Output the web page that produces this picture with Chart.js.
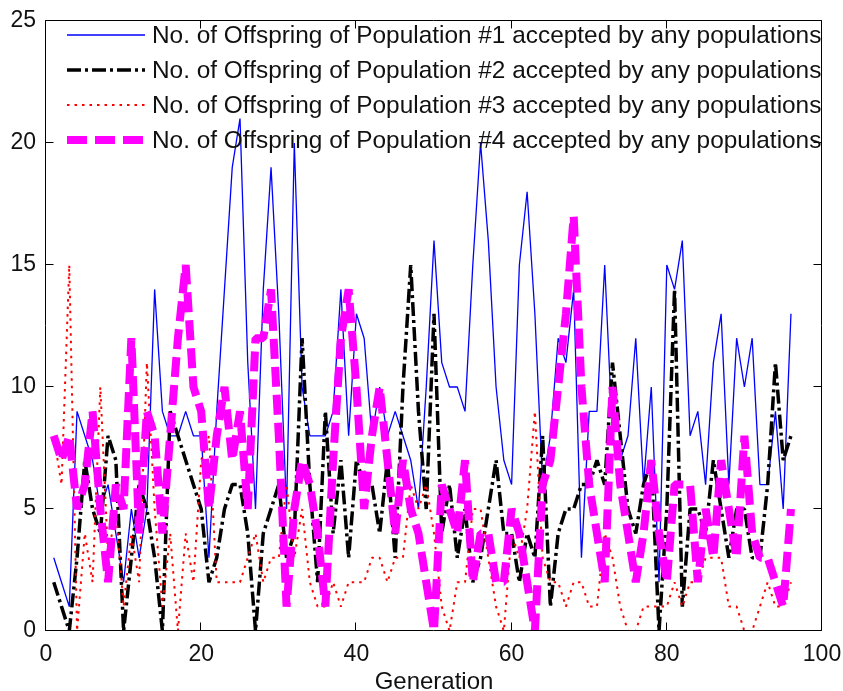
<!DOCTYPE html>
<html>
<head>
<meta charset="utf-8">
<script src="https://cdn.jsdelivr.net/npm/chart.js@4.4.1/dist/chart.umd.min.js"></script>
<style>
  html, body { margin: 0; padding: 0; background: #ffffff; overflow: hidden; }
  #wrap { width: 843px; height: 691px; }
  canvas { display: block; }
</style>
</head>
<body>
<div id="wrap"><canvas id="chart" width="843" height="691"></canvas></div>
<script>
// Generation index (x values)
const generations = [
  1, 2, 3, 4, 5, 6, 7, 8, 9, 10, 11, 12, 13, 14, 15, 16, 17, 18, 19, 20,
  21, 22, 23, 24, 25, 26, 27, 28, 29, 30, 31, 32, 33, 34, 35, 36, 37, 38, 39, 40,
  41, 42, 43, 44, 45, 46, 47, 48, 49, 50, 51, 52, 53, 54, 55, 56, 57, 58, 59, 60,
  61, 62, 63, 64, 65, 66, 67, 68, 69, 70, 71, 72, 73, 74, 75, 76, 77, 78, 79, 80,
  81, 82, 83, 84, 85, 86, 87, 88, 89, 90, 91, 92, 93, 94, 95, 96
];

// Offspring accepted per generation, one array per population
const population1 = [
  3, 2, 1, 9, 8, 7, 5, 6, 4, 2,
  5, 3, 5, 14, 9, 8, 8, 9, 8, 8,
  3, 9, 14, 19, 21, 11, 5, 14, 19, 13,
  5, 20, 10, 8, 8, 8, 9, 14, 8, 13,
  12, 8, 10, 8, 9, 8, 7, 5, 10, 16,
  11, 10, 10, 9, 15, 20, 16, 10, 7, 6,
  15, 18, 13, 6, 8, 12, 11, 14, 3, 9,
  9, 15, 8, 7, 8, 12, 6, 10, 2, 15,
  14, 16, 8, 9, 6, 11, 13, 6, 12, 10,
  12, 6, 6, 9, 5, 13
];
const population2 = [
  2, 1, 0, 3, 7, 5, 4, 8, 7, 0,
  3, 6, 5, 3, 0, 9, 8, 7, 6, 5,
  2, 3, 5, 6, 6, 4, 0, 4, 5, 6,
  3, 4, 12, 6, 2, 9, 4, 7, 3, 7,
  6, 6, 4, 7, 3, 10, 15, 9, 5, 13,
  4, 6, 3, 5, 2, 3, 5, 7, 4, 4,
  2, 4, 3, 8, 1, 4, 5, 5, 6, 6,
  7, 6, 11, 8, 5, 4, 6, 7, 0, 5,
  14, 1, 5, 5, 4, 7, 5, 3, 5, 5,
  3, 3, 6, 11, 7, 8
];
const population3 = [
  8, 6, 15, 0, 4, 2, 10, 3, 5, 1,
  4, 2, 11, 5, 1, 4, 0, 4, 2, 7,
  8, 2, 2, 2, 2, 3, 4, 2, 3, 3,
  6, 3, 5, 2, 1, 1, 2, 1, 2, 2,
  2, 3, 3, 2, 3, 3, 6, 5, 6, 4,
  1, 0, 2, 2, 5, 5, 3, 1, 0, 4,
  3, 5, 9, 3, 2, 2, 1, 2, 2, 1,
  1, 4, 3, 1, 0, 0, 1, 1, 1, 1,
  2, 1, 2, 2, 3, 3, 3, 1, 1, 0,
  0, 1, 2, 1, 1, 2
];
const population4 = [
  8, 7, 8, 5, 6, 9, 5, 2, 6, 5,
  12, 4, 9, 8, 4, 8, 12, 15, 10, 9,
  5, 8, 10, 7, 9, 5, 12, 12, 14, 8,
  1, 5, 7, 6, 4, 1, 7, 12, 14, 10,
  5, 8, 10, 7, 4, 7, 5, 4, 2, 0,
  6, 5, 4, 7, 2, 4, 4, 2, 2, 5,
  4, 2, 0, 6, 7, 10, 13, 17, 10, 6,
  4, 2, 10, 6, 4, 2, 4, 7, 4, 2,
  6, 6, 6, 2, 5, 3, 7, 5, 3, 8,
  4, 3, 3, 2, 1, 5
];

const seriesLabels = [
  'No. of Offspring of Population #1 accepted by any populations',
  'No. of Offspring of Population #2 accepted by any populations',
  'No. of Offspring of Population #3 accepted by any populations',
  'No. of Offspring of Population #4 accepted by any populations'
];

const xTickValues = [0, 20, 40, 60, 80, 100];
const yTickValues = [0, 5, 10, 15, 20, 25];
const xAxisTitle = 'Generation';

const FONT = "'Liberation Sans', Arial, Helvetica, sans-serif";

function toPoints(values) {
  return values.map((v, i) => ({ x: generations[i], y: v }));
}

// Box around the plot area with inward tick marks on all four sides
const axesBox = {
  id: 'axesBox',
  afterDatasetsDraw(chart) {
    const { ctx, chartArea: a, scales } = chart;
    const L = Math.round(a.left) - 0.5, R = Math.round(a.right) - 0.5;
    const T = Math.round(a.top) - 0.5, B = Math.round(a.bottom) - 0.5;
    const len = 8;
    ctx.save();
    ctx.strokeStyle = '#000';
    ctx.lineWidth = 1;
    ctx.setLineDash([]);
    ctx.beginPath();
    ctx.rect(L, T, R - L, B - T);
    xTickValues.forEach(v => {
      const px = Math.round(scales.x.getPixelForValue(v)) - 0.5;
      ctx.moveTo(px, B); ctx.lineTo(px, B - len);
      ctx.moveTo(px, T); ctx.lineTo(px, T + len);
    });
    yTickValues.forEach(v => {
      const py = Math.round(scales.y.getPixelForValue(v)) - 0.5;
      ctx.moveTo(L, py); ctx.lineTo(L + len, py);
      ctx.moveTo(R, py); ctx.lineTo(R - len, py);
    });
    ctx.stroke();
    ctx.restore();
  }
};

// Legend in the upper part of the plot: line sample followed by its label
const lineLegend = {
  id: 'lineLegend',
  afterDraw(chart) {
    const { ctx } = chart;
    const x0 = 67, x1 = 145, tx = 152, y0 = 35, dy = 35;
    ctx.save();
    chart.data.datasets.forEach((ds, i) => {
      const y = y0 + i * dy;
      ctx.beginPath();
      ctx.strokeStyle = ds.borderColor;
      ctx.lineWidth = ds.borderWidth;
      ctx.lineCap = 'butt';
      ctx.setLineDash(ds.borderDash || []);
      ctx.moveTo(x0, y);
      ctx.lineTo(x1, y);
      ctx.stroke();
      ctx.setLineDash([]);
      ctx.fillStyle = '#111';
      ctx.font = '24.4px ' + FONT;
      ctx.textAlign = 'left';
      ctx.textBaseline = 'middle';
      ctx.fillText(ds.label, tx, y + 1);
    });
    ctx.restore();
  }
};

const lineCommon = {
  fill: false,
  tension: 0,
  pointRadius: 0,
  pointHoverRadius: 0,
  borderCapStyle: 'butt',
  borderJoinStyle: 'bevel'
};

new Chart(document.getElementById('chart'), {
  type: 'line',
  data: {
    datasets: [
      Object.assign({}, lineCommon, {
        label: seriesLabels[0], data: toPoints(population1),
        borderColor: '#0000ff', borderWidth: 1.3, borderDash: [], order: 4
      }),
      Object.assign({}, lineCommon, {
        label: seriesLabels[1], data: toPoints(population2),
        borderColor: '#000000', borderWidth: 3.5, borderDash: [14, 4, 3, 4], order: 3
      }),
      Object.assign({}, lineCommon, {
        label: seriesLabels[2], data: toPoints(population3),
        borderColor: '#ff0000', borderWidth: 2, borderDash: [2.5, 5], order: 2
      }),
      Object.assign({}, lineCommon, {
        label: seriesLabels[3], data: toPoints(population4),
        borderColor: '#ff00ff', borderWidth: 8, borderDash: [20, 8], order: 1
      })
    ]
  },
  options: {
    responsive: false,
    animation: false,
    devicePixelRatio: 1,
    layout: { padding: { top: 21, right: 21, left: 0, bottom: 0 } },
    plugins: {
      legend: { display: false },
      tooltip: { enabled: false },
      title: { display: false }
    },
    scales: {
      x: {
        type: 'linear',
        min: 0,
        max: 100,
        afterBuildTicks(scale) { scale.ticks = xTickValues.map(v => ({ value: v })); },
        afterFit(scale) {
          scale.height = 60;
          scale.paddingLeft = 0;
          scale.paddingRight = 0;
        },
        grid: { display: false, drawTicks: false },
        border: { display: false },
        ticks: {
          color: '#111',
          font: { family: FONT, size: 23 },
          padding: 10,
          maxRotation: 0,
          autoSkip: false
        },
        title: {
          display: true,
          text: xAxisTitle,
          color: '#111',
          font: { family: FONT, size: 24, lineHeight: 1 },
          padding: { top: 0, bottom: -3 }
        }
      },
      y: {
        type: 'linear',
        min: 0,
        max: 25,
        afterBuildTicks(scale) { scale.ticks = yTickValues.map(v => ({ value: v })); },
        afterFit(scale) {
          scale.width = 46;
          scale.paddingTop = 0;
          scale.paddingBottom = 0;
        },
        grid: { display: false, drawTicks: false },
        border: { display: false },
        ticks: {
          color: '#111',
          font: { family: FONT, size: 23 },
          padding: 10,
          autoSkip: false
        }
      }
    }
  },
  plugins: [axesBox, lineLegend]
});
</script>
</body>
</html>
